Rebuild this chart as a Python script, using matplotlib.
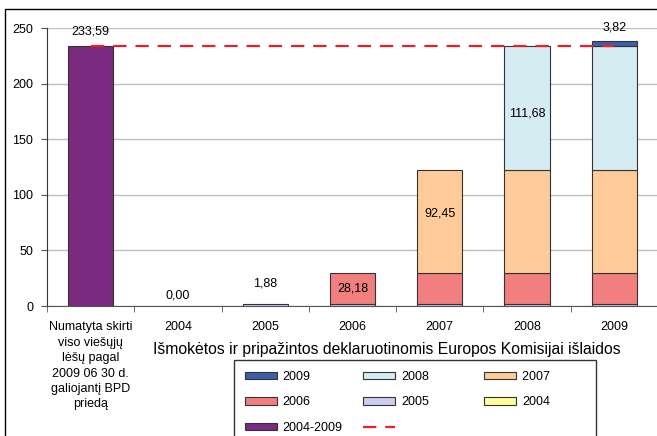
import matplotlib
matplotlib.use("Agg")
import matplotlib.pyplot as plt
from matplotlib.patches import Patch, Rectangle
from matplotlib.lines import Line2D
import numpy as np

plt.rcParams['font.family'] = ['Liberation Sans', 'DejaVu Sans']

categories = ["Numatyta skirti\nviso viešųjų\nlėšų pagal\n2009 06 30 d.\ngaliojantį BPD\npriedą",
              "2004", "2005", "2006", "2007", "2008", "2009"]
planned_2004_2009 = [233.59, 0, 0, 0, 0, 0, 0]
s2004 = [0, 0.0, 0.0, 0.0, 0.0, 0.0, 0.0]
s2005 = [0, 0, 1.88, 1.88, 1.88, 1.88, 1.88]
s2006 = [0, 0, 0, 28.18, 28.18, 28.18, 28.18]
s2007 = [0, 0, 0, 0, 92.45, 92.45, 92.45]
s2008 = [0, 0, 0, 0, 0, 111.68, 111.68]
s2009 = [0, 0, 0, 0, 0, 0, 3.82]
target_line = 233.59
y_ticks = [0, 50, 100, 150, 200, 250]
xlabel = "Išmokėtos ir pripažintos deklaruotinomis Europos Komisijai išlaidos"

series = [("2004", s2004, "#FFFF99"),
          ("2005", s2005, "#CCCCEE"),
          ("2006", s2006, "#F27F7F"),
          ("2007", s2007, "#FFCC99"),
          ("2008", s2008, "#D5ECF2"),
          ("2009", s2009, "#3F5FAA")]
purple = "#7B2A80"
edge = "#333333"

fig = plt.figure(figsize=(6.57, 4.36), dpi=100)
ax = fig.add_axes([47/657, 130/436, 611/657, 278/436])

x = np.arange(len(categories))
w = 0.52

# planned bar
pv = np.array(planned_2004_2009)
m = pv > 0
ax.bar(x[m], pv[m], width=w, color=purple, edgecolor=edge, linewidth=0.8, zorder=3)

bottom = np.zeros(len(categories))
handles = {}
for name, vals, col in series:
    v = np.array(vals, dtype=float)
    m = v > 0
    ax.bar(x[m], v[m], width=w, bottom=bottom[m], color=col, edgecolor=edge, linewidth=0.8, zorder=3)
    handles[name] = Patch(facecolor=col, edgecolor=edge, linewidth=0.8)
    bottom = bottom + v
handles["2004-2009"] = Patch(facecolor=purple, edgecolor=edge, linewidth=0.8)

ax.plot([x[0], x[-1]], [target_line, target_line], color="#E8202A", lw=1.6,
        dashes=(6, 4), zorder=4)
dash_handle = Line2D([], [], color="#E8202A", lw=1.6, dashes=(6, 4))

def fmt(v):
    return f"{v:.2f}".replace('.', ',')

fs = 9
# labels above
ax.annotate(fmt(planned_2004_2009[0]), (x[0], planned_2004_2009[0]), xytext=(0, 15),
            textcoords='offset pixels', ha='center', va='center', fontsize=fs, zorder=5,
            annotation_clip=False)
ax.annotate(fmt(s2004[1]), (x[1], s2004[1]), xytext=(0, 11),
            textcoords='offset pixels', ha='center', va='center', fontsize=fs, zorder=5)
ax.annotate(fmt(s2005[2]), (x[2], s2005[2]), xytext=(0, 20),
            textcoords='offset pixels', ha='center', va='center', fontsize=fs, zorder=5)
b3 = s2004[3] + s2005[3]
ax.text(x[3], b3 + s2006[3] / 2, fmt(s2006[3]), ha='center', va='center', fontsize=fs, zorder=5)
b4 = s2004[4] + s2005[4] + s2006[4]
ax.text(x[4], b4 + s2007[4] / 2 + 7, fmt(s2007[4]), ha='center', va='center', fontsize=fs, zorder=5)
b5 = b4 + s2007[5]
ax.text(x[5], b5 + s2008[5] / 2 - 5, fmt(s2008[5]), ha='center', va='center', fontsize=fs, zorder=5)
tot6 = sum(s[6] for s in [s2004, s2005, s2006, s2007, s2008, s2009])
ax.annotate(fmt(s2009[6]), (x[6], tot6), xytext=(0, 14),
            textcoords='offset pixels', ha='center', va='center', fontsize=fs, zorder=5,
            annotation_clip=False)

ax.set_xlim(-0.5, len(categories) - 0.5)
ax.set_ylim(0, 250)
ax.set_yticks(y_ticks)
ax.set_yticklabels([str(t) for t in y_ticks], fontsize=fs)
ax.set_xticks(x)
ax.set_xticklabels(categories, fontsize=fs, linespacing=1.38)
ax.tick_params(axis='x', which='major', length=0, pad=11)
ax.set_xticks(np.arange(-0.5, len(categories) - 0.4, 1), minor=True)
ax.tick_params(axis='x', which='minor', length=4, color="#555555")
ax.tick_params(axis='y', length=4, color="#555555", pad=6)
ax.grid(axis='y', color="#C0C0C0", lw=1, zorder=0)
ax.set_axisbelow(True)
for s in ['top', 'right']:
    ax.spines[s].set_visible(False)
ax.spines['left'].set_color("#333333")
ax.spines['bottom'].set_color("#555555")

fig.text(387/657, 1 - 349/436, xlabel, ha='center', va='center', fontsize=11.3)

order = ["2009", "2006", "2004-2009", "2008", "2005", None, "2007", "2004"]
lh, ll = [], []
for k in order:
    if k is None:
        lh.append(dash_handle)
        ll.append(" " * 18)
    elif k == "2007":
        lh.append(handles[k])
        ll.append(k + " " * 10)
    else:
        lh.append(handles[k])
        ll.append(k)
leg = fig.legend(lh, ll, loc='upper left', bbox_to_anchor=(234/657, 1 - 360/436),
                 ncol=3, fontsize=fs, frameon=True, fancybox=False, edgecolor='black',
                 handlelength=2.6, handleheight=0.5, handletextpad=0.45,
                 labelspacing=1.1, columnspacing=1.6, borderpad=0.85, borderaxespad=0)
leg.get_frame().set_linewidth(1.0)

fig.patches.append(Rectangle((5/657, -0.1), 1.2, 1.1 - 9/436 + 0, transform=fig.transFigure,
                             fill=False, edgecolor='black', lw=1.0))

fig.savefig("out.png", dpi=100)
